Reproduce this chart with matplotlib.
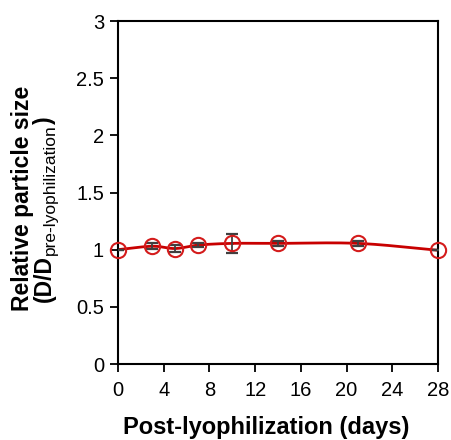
import matplotlib
matplotlib.use("Agg")
import matplotlib.pyplot as plt
import numpy as np

# relative particle size after lyophilization
days = [0, 3, 5, 7, 10, 14, 21, 28]
rel_size = [1.00, 1.03, 1.01, 1.04, 1.055, 1.055, 1.055, 0.995]
rel_err = [0.00, 0.025, 0.03, 0.02, 0.08, 0.025, 0.02, 0.00]

xticks = [0, 4, 8, 12, 16, 20, 24, 28]
yticks = [0, 0.5, 1, 1.5, 2, 2.5, 3]
ytick_labels = ["0", "0.5", "1", "1.5", "2", "2.5", "3"]

plt.rcParams['font.family'] = ['Liberation Sans', 'DejaVu Sans']


def smooth(x, y, n=30):
    # catmull-rom style smoothing, like a spreadsheet "smoothed line"
    x = np.asarray(x, float)
    y = np.asarray(y, float)
    px = np.concatenate([[2 * x[0] - x[1]], x, [2 * x[-1] - x[-2]]])
    py = np.concatenate([[2 * y[0] - y[1]], y, [2 * y[-1] - y[-2]]])
    xs, ys = [], []
    t = np.linspace(0, 1, n)
    for i in range(1, len(px) - 2):
        for p, out in ((px, xs), (py, ys)):
            p0, p1, p2, p3 = p[i - 1], p[i], p[i + 1], p[i + 2]
            out.extend(0.5 * ((2 * p1) + (-p0 + p2) * t
                              + (2 * p0 - 5 * p1 + 4 * p2 - p3) * t ** 2
                              + (-p0 + 3 * p1 - 3 * p2 + p3) * t ** 3))
    return np.array(xs), np.array(ys)


fig = plt.figure(figsize=(4.51, 4.40), dpi=100)
ax = fig.add_axes([118 / 451, 1 - 364 / 440, 320 / 451, 343 / 440])

sx, sy = smooth(days, rel_size)
ax.plot(sx, sy, color='#c80000', lw=2.0, zorder=2)
ax.errorbar(days, rel_size, yerr=rel_err, fmt='none', ecolor='#404040',
            elinewidth=1.3, capsize=4, capthick=1.6, zorder=3)
ax.plot(days, rel_size, 'o', ms=11, mfc='none', mec='#d41c1c', mew=1.5,
        zorder=4, clip_on=False)

ax.set_xlim(0, 28)
ax.set_ylim(0, 3)
ax.set_xticks(xticks)
ax.set_yticks(yticks)
ax.set_yticklabels(ytick_labels)
ax.tick_params(direction='out', length=6, width=1.3, labelsize=14.5,
               colors='black', pad=4)
ax.tick_params(axis='x', pad=6)
for s in ax.spines.values():
    s.set_linewidth(1.5)

fig.text(266 / 451, 1 - 427 / 440,
         'Post-lyophilization (days)', ha='center', va='center',
         fontsize=17, fontweight='bold')
fig.text(23 / 451, 1 - 198 / 440, 'Relative particle size',
         rotation=90, ha='center', va='center', fontsize=16.5,
         fontweight='bold')

# second label line: (D/D with a plain subscript, then the closing bracket
t1 = fig.text(44 / 451, 1 - 302 / 440, '(D/D', rotation=90, ha='center',
              va='bottom', fontsize=16.5, fontweight='bold')
t2 = ax.annotate('pre-lyophilization', xy=(1, 1), xycoords=t1,
                 xytext=(1.5, 0), textcoords='offset points', rotation=90,
                 ha='right', va='bottom', fontsize=12.5)
ax.annotate(')', xy=(1, 1), xycoords=(t1, t2), rotation=90, ha='right',
            va='bottom', fontsize=16.5, fontweight='bold')

fig.savefig('out.png', dpi=100)
